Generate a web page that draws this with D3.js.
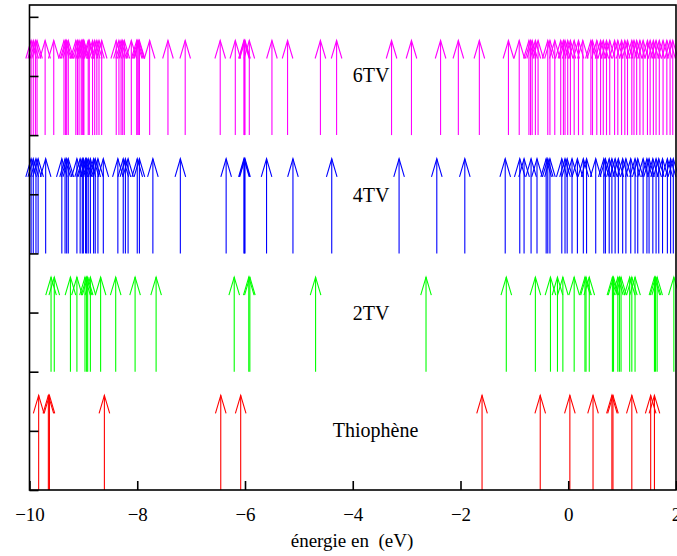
<!DOCTYPE html>
<html><head><meta charset="utf-8">
<script src="https://cdn.jsdelivr.net/npm/d3@7"></script>
<style>body{margin:0;background:#fff}svg{display:block}text{white-space:pre}</style>
</head><body>
<svg id="c" width="677" height="556"></svg>
<script>
const thiophene = [-9.83,-9.65,-9.63,-8.61,-6.45,-6.08,-1.60,-0.52,0.03,0.46,0.81,0.83,1.18,1.53,1.60];
const tv2 = [-9.60,-9.54,-9.24,-9.12,-8.97,-8.94,-8.92,-8.87,-8.68,-8.40,-8.04,-7.65,-6.20,-5.93,-5.91,-4.69,-2.64,-1.15,-0.61,-0.33,-0.20,-0.10,0.11,0.31,0.33,0.39,0.82,0.84,0.92,0.95,0.98,1.14,1.18,1.24,1.60,1.62,1.65,1.96];
const tv4 = [-9.97,-9.93,-9.88,-9.84,-9.70,-9.40,-9.34,-9.31,-9.28,-9.12,-9.06,-9.02,-9.00,-8.96,-8.94,-8.91,-8.87,-8.81,-8.78,-8.73,-8.63,-8.36,-8.26,-8.22,-8.17,-8.00,-7.96,-7.71,-7.20,-6.35,-6.02,-6.01,-6.00,-5.60,-5.11,-4.39,-3.14,-2.44,-1.92,-1.17,-0.90,-0.82,-0.69,-0.58,-0.41,-0.38,-0.34,-0.12,-0.06,-0.02,0.07,0.17,0.28,0.34,0.51,0.66,0.69,0.76,0.81,0.87,0.93,1.01,1.07,1.16,1.24,1.29,1.39,1.46,1.50,1.57,1.63,1.68,1.75,1.84,1.90,1.95];
const tv6 = [-9.97,-9.93,-9.89,-9.86,-9.71,-9.55,-9.36,-9.33,-9.31,-9.28,-9.14,-9.11,-9.08,-9.04,-9.02,-9.00,-8.99,-8.91,-8.89,-8.83,-8.79,-8.75,-8.71,-8.66,-8.39,-8.34,-8.30,-8.27,-8.24,-8.11,-8.01,-7.99,-7.97,-7.96,-7.77,-7.43,-7.11,-6.46,-6.18,-6.02,-6.01,-6.00,-5.92,-5.50,-5.21,-4.60,-4.30,-3.28,-2.91,-2.37,-2.04,-1.65,-1.11,-0.91,-0.73,-0.70,-0.67,-0.61,-0.56,-0.38,-0.34,-0.25,-0.14,-0.09,-0.06,-0.01,0.04,0.11,0.19,0.27,0.42,0.45,0.53,0.60,0.65,0.71,0.77,0.86,0.92,0.99,1.05,1.10,1.18,1.22,1.27,1.33,1.39,1.47,1.52,1.58,1.63,1.69,1.76,1.83,1.89,1.94];

const seriesNames = ["Thiophène","2TV","4TV","6TV"];
const seriesColors = ["#ff0000","#00ff00","#0000ff","#ff00ff"];
const seriesBase = [0,2,4,6];
const seriesData = [thiophene, tv2, tv4, tv6];
const arrowLength = 1.6;
const labelX = [-4.37,-4.0,-4.0,-4.0];
const labelY = [0.9,2.88,4.87,6.89];
const xTicks = [-10,-8,-6,-4,-2,0,2];
const yTicks = [0,1,2,3,4,5,6,7,8];
const xLabel = "énergie en  (eV)";

const svg = d3.select("#c");
const m = {l:29.5, r:676, t:5, b:490};
const x = d3.scaleLinear().domain([-10,2]).range([m.l,m.r]);
const y = d3.scaleLinear().domain([0,8.2]).range([m.b,m.t]);
const font = "Liberation Serif, Times New Roman, serif";

// arrows
seriesData.forEach((vals,i)=>{
  const g = svg.append("g").attr("stroke",seriesColors[i]).attr("stroke-width",1.1).attr("fill","none");
  vals.forEach(v=>{
    const px = x(v), y0 = y(seriesBase[i]), y1 = y(seriesBase[i]+arrowLength);
    g.append("line").attr("x1",px).attr("x2",px).attr("y1",y0).attr("y2",y1);
    g.append("path").attr("d",`M${px-5.3},${y1+18}L${px},${y1}L${px+5.3},${y1+18}`);
  });
  svg.append("text").attr("x",x(labelX[i])).attr("y",y(labelY[i]))
    .attr("font-family",font).attr("font-size",20).attr("fill","#000").text(seriesNames[i]);
});

// frame
svg.append("rect").attr("x",m.l).attr("y",m.t).attr("width",m.r-m.l).attr("height",m.b-m.t)
  .attr("fill","none").attr("stroke","#000").attr("stroke-width",1.6);

// x axis ticks
const xa = svg.append("g").attr("transform",`translate(0,${m.b})`)
  .call(d3.axisBottom(x).tickValues(xTicks).tickSize(-9).tickPadding(18)
    .tickFormat(d=>d<0?"\u2212"+Math.abs(d):String(d)));
xa.select(".domain").remove();
xa.selectAll("line").attr("stroke","#000").attr("stroke-width",1.6);
xa.selectAll("text").attr("font-family",font).attr("font-size",19).attr("fill","#000");

// y axis ticks
const ya = svg.append("g").attr("transform",`translate(${m.l},0)`)
  .call(d3.axisLeft(y).tickValues(yTicks).tickSize(-9).tickFormat(""));
ya.select(".domain").remove();
ya.selectAll("line").attr("stroke","#000").attr("stroke-width",1.6);

svg.append("text").attr("x",352).attr("y",547).attr("text-anchor","middle")
  .attr("font-family",font).attr("font-size",19).attr("fill","#000").text(xLabel);
</script>
</body></html>
